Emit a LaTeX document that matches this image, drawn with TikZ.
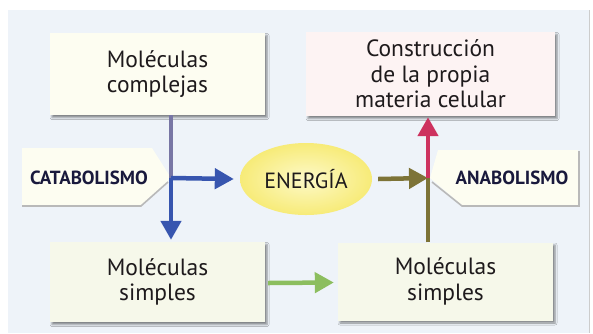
\documentclass[tikz,border=0pt]{standalone}
\usepackage{fontspec}
\setmainfont{PT Sans}
\usetikzlibrary{arrows.meta,shadows.blur,shapes.geometric,calc}
\definecolor{bgc}{RGB}{238,243,249}
\definecolor{creamc}{RGB}{253,253,241}
\definecolor{pinkc}{RGB}{253,243,243}
\definecolor{greenc}{RGB}{246,248,234}
\definecolor{txtc}{RGB}{30,26,28}
\definecolor{tabtxt}{RGB}{25,25,60}
\definecolor{bluea}{RGB}{55,85,175}
\definecolor{purpa}{RGB}{120,118,165}
\definecolor{olivea}{RGB}{125,115,55}
\definecolor{reda}{RGB}{205,50,95}
\definecolor{greena}{RGB}{140,190,95}
\definecolor{yelin}{RGB}{253,249,200}
\definecolor{yelout}{RGB}{247,235,120}
\tikzset{
  box/.style={rectangle, draw=none, align=center, font=\fontsize{23.5}{25.5}\selectfont, text=txtc,
    blur shadow={shadow xshift=2pt, shadow yshift=-2.5pt, shadow blur steps=4, shadow opacity=45}},
  tabtext/.style={font=\bfseries\fontsize{19}{22}\selectfont, text=tabtxt},
  arr/.style={line width=4.5pt, -{Triangle[width=20pt,length=19pt]}},
  ln/.style={line width=4.5pt},
  tabshadow/.style={draw=gray!55, line width=1.6pt}
}
\begin{document}
\begin{tikzpicture}[x=1pt,y=-1pt]
\useasboundingbox (0,0) rectangle (593,333);
\fill[white] (0,0) rectangle (593,333);
\fill[bgc] (8,10) rectangle (590,333);
\draw[gray!40, line width=1pt] (589.5,10) -- (589.5,333);

% tabs
\fill[creamc] (22,148) -- (152,148) -- (171,178) -- (141,205) -- (22,205) -- cycle;
\draw[tabshadow] (22,206) -- (141,206) -- (168,182);
\node[tabtext] (cat) at (89,178) {CATABOLISMO};

\fill[creamc] (438,150) -- (578,150) -- (578,205) -- (462,205) -- (430,178) -- cycle;
\draw[tabshadow] (432,182) -- (462,206) -- (579,206) -- (579,151);
\node[tabtext] (ana) at (512,178) {ANABOLISMO};

% boxes
\node[box, fill=creamc, minimum width=215pt, minimum height=82pt] (mc) at (157.5,74) {Moléculas\\complejas};
\node[box, fill=pinkc, minimum width=249pt, minimum height=84pt] (cons) at (430.5,74) {Construcción\\de la propia\\materia celular};
\node[box, fill=greenc, minimum width=215pt, minimum height=80pt] (ms1) at (157.5,282) {Moléculas\\simples};
\node[box, fill=greenc, minimum width=215pt, minimum height=78pt] (ms2) at (445.5,281.5) {Moléculas\\simples};

% energy
\node[ellipse, minimum width=132pt, minimum height=72pt, inner color=yelin, outer color=yelout,
  font=\fontsize{22}{24}\selectfont, text=txtc] (en) at (306,179) {ENERGÍA};

\coordinate (cL) at (171,178);
\coordinate (cR) at (428,178);

% catabolism arrows
\draw[ln, purpa] (mc.south -| cL) -- (cL);
\draw[arr, bluea] (cL) -- ($(ms1.north -| cL)+(0,-2)$);
\draw[arr, bluea] (cL) -- ($(en.west)+(-6,0)$);

% anabolism arrows
\draw[arr, olivea] ($(en.east)+(6,0)$) -- (cR);
\draw[ln, olivea] (ms2.north -| cR) -- (cR);
\draw[arr, reda] (cR) -- ($(cons.south -| cR)+(0,1)$);

% green arrow
\draw[arr, greena] ($(ms1.east)+(3,1)$) -- ($(ms2.west)+(-4,1)$);
\end{tikzpicture}
\end{document}
